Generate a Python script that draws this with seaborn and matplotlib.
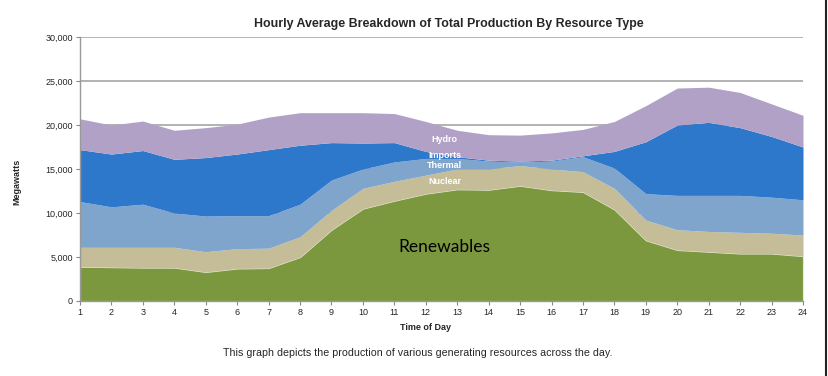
import matplotlib
matplotlib.use("Agg")
import matplotlib.pyplot as plt
import seaborn as sns
import pandas as pd

# hourly average production (MW) per resource type
hours = list(range(1, 25))
renewables = [3900, 3850, 3800, 3800, 3300, 3700, 3750, 5000, 8100, 10500, 11400, 12200,
              12700, 12650, 13100, 12600, 12400, 10400, 6900, 5800, 5600, 5400, 5400, 5100]
nuclear = [2200, 2250, 2300, 2300, 2300, 2250, 2250, 2300, 2200, 2300, 2200, 2100,
           2300, 2350, 2300, 2400, 2300, 2400, 2300, 2300, 2300, 2400, 2300, 2400]
thermal = [5200, 4600, 4900, 3900, 4050, 3750, 3700, 3700, 3450, 2200, 2200, 1900,
           1200, 900, 400, 900, 1700, 2300, 3000, 3900, 4100, 4200, 4100, 4000]
imports = [5900, 6000, 6100, 6100, 6650, 7000, 7500, 6700, 4250, 2950, 2200, 800,
           200, 100, 100, 100, 100, 1900, 5900, 8000, 8300, 7700, 6900, 6000]
hydro = [3500, 3300, 3350, 3300, 3400, 3400, 3700, 3700, 3400, 3450, 3300, 3400,
         3000, 2900, 2950, 3100, 3000, 3400, 4100, 4200, 4000, 4000, 3700, 3600]

df = pd.DataFrame({"Hour": hours, "Renewables": renewables, "Nuclear": nuclear,
                   "Thermal": thermal, "Imports": imports, "Hydro": hydro})
layers = ["Renewables", "Nuclear", "Thermal", "Imports", "Hydro"]
colors = ["#7b983f", "#c4bd97", "#80a5cc", "#2e78cc", "#b2a1c7"]

sns.set_theme(style="white")
plt.rcParams["font.family"] = ["Liberation Sans", "DejaVu Sans"]

fig = plt.figure(figsize=(8.29, 3.76), dpi=100)
ax = fig.add_axes([80 / 829, 1 - 301 / 376, 723 / 829, 264 / 376])

polys = ax.stackplot(df["Hour"], *[df[c] for c in layers], colors=colors, linewidth=0)
polys[0].set_edgecolor("#e8ead8")
polys[0].set_linewidth(0.8)

ax.set_xlim(1, 24)
ax.set_ylim(0, 30000)
ax.set_xticks(hours)
ax.set_yticks(range(0, 30001, 5000))
ax.set_yticklabels([f"{v:,}" for v in range(0, 30001, 5000)])
ax.tick_params(axis="both", labelsize=6.5, length=3, width=0.8, color="#888888",
               direction="out", pad=2, bottom=True, left=True)
ax.set_axisbelow(True)
ax.yaxis.grid(True, color="#a6a6a6", linewidth=1.2)
ax.xaxis.grid(False)
for s in ["top", "right"]:
    ax.spines[s].set_visible(False)
for s in ["left", "bottom"]:
    ax.spines[s].set_color("#999999")
    ax.spines[s].set_linewidth(1.0)

# labels on the areas
ax.text(12.6, 18300, "Hydro", color="white", fontsize=6.5, fontweight="bold", ha="center", va="center")
ax.text(12.6, 16500, "Imports", color="white", fontsize=6.5, fontweight="bold", ha="center", va="center")
ax.text(12.6, 15400, "Thermal", color="white", fontsize=6.5, fontweight="bold", ha="center", va="center")
ax.text(12.6, 13600, "Nuclear", color="white", fontsize=6.5, fontweight="bold", ha="center", va="center")
ax.text(12.6, 6100, "Renewables", color="black", fontsize=12.5, ha="center", va="center",
        family=["Lato", "DejaVu Sans"])

fig.text(449 / 829, 1 - 24 / 376, "Hourly Average Breakdown of Total Production By Resource Type",
         ha="center", va="center", fontsize=8.9, fontweight="bold")
fig.text(17 / 829, 1 - 182 / 376, "Megawatts", rotation=90, ha="center", va="center",
         fontsize=6.5, fontweight="bold")
fig.text(425 / 829, 1 - 328 / 376, "Time of Day", ha="center", va="center",
         fontsize=6.5, fontweight="bold")
fig.text(418 / 829, 1 - 353 / 376,
         "This graph depicts the production of various generating resources across the day.",
         ha="center", va="center", fontsize=7.7)

# frame line on the right edge
fig.add_artist(plt.Line2D([826 / 829, 826 / 829], [0, 1], color="#222222", linewidth=1.5))

fig.savefig("out.png", dpi=100)
